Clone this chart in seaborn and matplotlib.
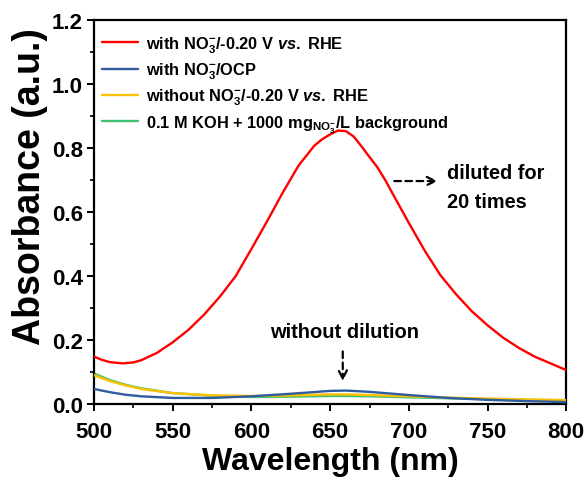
import numpy as np
import pandas as pd
import matplotlib
matplotlib.use('Agg')
import matplotlib.pyplot as plt
from matplotlib.ticker import MultipleLocator, FormatStrFormatter
import seaborn as sns

# wavelength (nm) and absorbance
red_x = [500, 505, 510, 518, 525, 530, 540, 550, 560, 570, 580, 590, 600, 610,
         620, 630, 640, 645, 650, 655, 660, 665, 670, 675, 680, 685, 690, 700,
         710, 720, 730, 740, 750, 760, 770, 780, 790, 800]
red_y = [0.148, 0.138, 0.131, 0.127, 0.130, 0.137, 0.160, 0.193, 0.232, 0.280,
         0.336, 0.400, 0.485, 0.572, 0.662, 0.746, 0.808, 0.828, 0.843, 0.855,
         0.853, 0.836, 0.805, 0.772, 0.740, 0.700, 0.655, 0.566, 0.480, 0.403,
         0.343, 0.290, 0.246, 0.207, 0.175, 0.148, 0.127, 0.106]

low_x = [500, 510, 520, 530, 550, 575, 600, 625, 650, 660, 675, 700, 725, 750, 775, 800]
blue_y = [0.047, 0.037, 0.029, 0.024, 0.019, 0.019, 0.024, 0.032, 0.041, 0.042,
          0.038, 0.028, 0.019, 0.013, 0.009, 0.006]
yellow_y = [0.090, 0.072, 0.058, 0.047, 0.034, 0.027, 0.025, 0.027, 0.030, 0.030,
            0.028, 0.024, 0.020, 0.017, 0.014, 0.012]
green_y = [0.095, 0.075, 0.060, 0.049, 0.034, 0.026, 0.022, 0.023, 0.025, 0.025,
           0.024, 0.021, 0.018, 0.015, 0.013, 0.012]

labels = [r"with NO$_3^{-}$/-0.20 V $\mathit{vs.}$ RHE",
          r"with NO$_3^{-}$/OCP",
          r"without NO$_3^{-}$/-0.20 V $\mathit{vs.}$ RHE",
          r"0.1 M KOH + 1000 mg$_{\mathrm{NO_3^{-}}}$/L background"]
colors = ["#FF0000", "#2E5C9E", "#FFC000", "#40C070"]

sns.set_style("ticks")
plt.rcParams.update({
    "font.family": ["Liberation Sans", "DejaVu Sans"],
    "font.weight": "bold",
    "mathtext.fontset": "custom",
    "mathtext.rm": "Liberation Sans:bold",
    "mathtext.bf": "Liberation Sans:bold",
    "mathtext.it": "Liberation Sans:italic:bold",
    "mathtext.default": "rm",
    "axes.linewidth": 1.6,
    "text.color": "black",
    "axes.labelcolor": "black",
    "axes.edgecolor": "black",
    "xtick.color": "black",
    "ytick.color": "black",
})

fig = plt.figure(figsize=(5.88, 4.81), dpi=100)
ax = fig.add_axes([0.160, 0.158, 0.803, 0.798])

series = [(red_x, red_y), (low_x, blue_y), (low_x, yellow_y), (low_x, green_y)]
zorders = [4, 5, 3, 2]
for (xs, ys), lab, col, z in zip(series, labels, colors, zorders):
    sns.lineplot(x=xs, y=ys, ax=ax, color=col, linewidth=1.7, label=lab,
                 zorder=z, sort=False)

ax.set_xlim(500, 800)
ax.set_ylim(0, 1.2)
ax.xaxis.set_major_locator(MultipleLocator(50))
ax.xaxis.set_minor_locator(MultipleLocator(25))
ax.yaxis.set_major_locator(MultipleLocator(0.2))
ax.yaxis.set_minor_locator(MultipleLocator(0.1))
ax.yaxis.set_major_formatter(FormatStrFormatter('%.1f'))
ax.tick_params(which='major', length=5, width=1.4, labelsize=16, direction='out')
ax.tick_params(which='minor', length=3, width=1.2, direction='out')
ax.tick_params(axis='x', which='major', pad=7)
ax.tick_params(axis='y', which='major', pad=3)
for lbl in ax.get_xticklabels() + ax.get_yticklabels():
    lbl.set_fontweight('bold')
for s in ax.spines.values():
    s.set_visible(True)
    s.set_linewidth(1.6)
    s.set_color('black')

ax.set_xlabel("Wavelength (nm)", fontsize=23, fontweight='bold', labelpad=3)
ax.set_ylabel("Absorbance (a.u.)", fontsize=27, fontweight='bold', labelpad=2)
ax.yaxis.set_label_coords(-0.097, 0.568)

leg = ax.legend(loc='upper left', frameon=False, fontsize=11.8, handlelength=2.2,
                handletextpad=0.45, labelspacing=0.35, borderaxespad=0.1,
                bbox_to_anchor=(0.0, 0.985))
for t in leg.get_texts():
    t.set_fontweight('bold')
    t.set_color('black')

ax.annotate("", xy=(720, 0.697), xytext=(689, 0.697),
            arrowprops=dict(arrowstyle='->', linestyle=(0, (3, 2)), lw=1.6,
                            color='black', mutation_scale=15))
ax.text(724, 0.679, "diluted for\n20 times", fontsize=14.3, fontweight='bold',
        ha='left', va='center', linespacing=1.65, color='black')

ax.text(659, 0.226, "without dilution", fontsize=14.5, fontweight='bold',
        ha='center', va='center', color='black')
ax.annotate("", xy=(658, 0.063), xytext=(658, 0.173),
            arrowprops=dict(arrowstyle='->', linestyle=(0, (3, 2)), lw=1.6,
                            color='black', mutation_scale=15))

fig.savefig("out.png", dpi=100)
